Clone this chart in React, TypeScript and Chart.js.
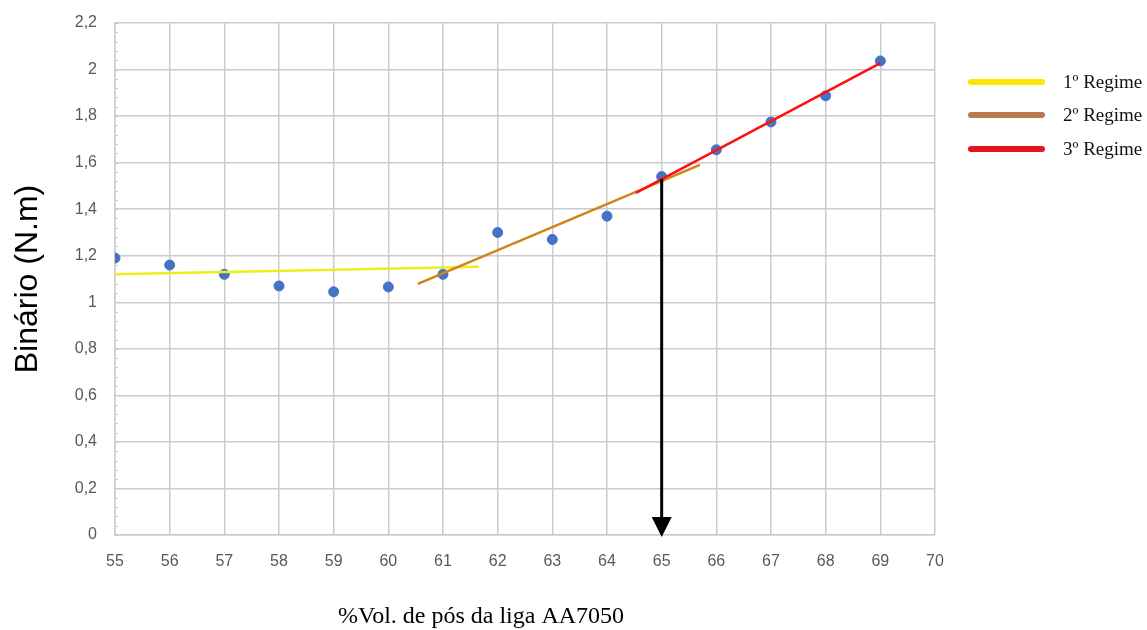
import React, { useEffect, useRef } from "react";
import { Chart, registerables } from "chart.js";

Chart.register(...registerables);

// ---- data ----
const volPct = [55, 56, 57, 58, 59, 60, 61, 62, 63, 64, 65, 66, 67, 68, 69];
const torque = [1.19, 1.16, 1.12, 1.07, 1.045, 1.066, 1.12, 1.30, 1.27, 1.37, 1.54, 1.655, 1.775, 1.887, 2.037];

const regime1X = [55, 61.66];
const regime1Y = [1.12, 1.153];
const regime2X = [60.54, 65.7];
const regime2Y = [1.079, 1.59];
const regime3X = [64.53, 69];
const regime3Y = [1.47, 2.028];

const arrowX = 65;
const arrowFromY = 1.53;
const arrowToY = 0;

const legendLabels = ["1º Regime", "2º Regime", "3º Regime"];
const legendColors = ["#fbe700", "#b97a4f", "#e8141c"];
const lineColors = ["#eeee1a", "#d0841a", "#ff1010"];

const xTitle = "%Vol. de pós da liga AA7050";
const yTitle = "Binário (N.m)";

const xMin = 55, xMax = 70, xStep = 1;
const yMin = 0, yMax = 2.2, yStep = 0.2;

const toXY = (xs: number[], ys: number[]) => xs.map((x, i) => ({ x, y: ys[i] }));

const fmt = (v: number) => String(Number(v.toFixed(1))).replace(".", ",");

export default function App() {
  const ref = useRef<HTMLCanvasElement | null>(null);

  useEffect(() => {
    document.body.style.margin = "0";
    const canvas = ref.current;
    if (!canvas) return;

    const overlay = {
      id: "overlay",
      beforeDatasetsDraw(chart: any) {
        const { ctx } = chart;
        const y = chart.scales.y;
        const x = chart.scales.x;
        // minor ticks on y axis
        ctx.save();
        ctx.strokeStyle = "#c8c8c8";
        ctx.lineWidth = 1;
        const n = Math.round((yMax - yMin) / (yStep / 5));
        for (let i = 0; i <= n; i++) {
          const v = yMin + (i * yStep) / 5;
          const py = Math.round(y.getPixelForValue(v)) + 0.5;
          ctx.beginPath();
          ctx.moveTo(x.left, py);
          ctx.lineTo(x.left + 3, py);
          ctx.stroke();
        }
        ctx.restore();
      },
      afterDatasetsDraw(chart: any) {
        const { ctx } = chart;
        const xs = chart.scales.x;
        const ys = chart.scales.y;
        // arrow
        const ax = xs.getPixelForValue(arrowX);
        const y1 = ys.getPixelForValue(arrowFromY);
        const y2 = ys.getPixelForValue(arrowToY) + 2;
        ctx.save();
        ctx.strokeStyle = "#000";
        ctx.fillStyle = "#000";
        ctx.lineWidth = 3;
        ctx.beginPath();
        ctx.moveTo(ax, y1);
        ctx.lineTo(ax, y2 - 18);
        ctx.stroke();
        ctx.beginPath();
        ctx.moveTo(ax - 10, y2 - 20);
        ctx.lineTo(ax + 10, y2 - 20);
        ctx.lineTo(ax, y2);
        ctx.closePath();
        ctx.fill();
        ctx.restore();
      },
      afterDraw(chart: any) {
        const { ctx } = chart;
        ctx.save();
        // legend
        const lx1 = 971, lx2 = 1042, tx = 1063;
        const rows = [82, 115, 149];
        legendLabels.forEach((lab, i) => {
          ctx.strokeStyle = legendColors[i];
          ctx.lineWidth = 6;
          ctx.lineCap = "round";
          ctx.beginPath();
          ctx.moveTo(lx1, rows[i]);
          ctx.lineTo(lx2, rows[i]);
          ctx.stroke();
          ctx.fillStyle = "#111";
          ctx.font = '19px "Liberation Serif"';
          ctx.textAlign = "left";
          ctx.textBaseline = "middle";
          ctx.fillText(lab, tx, rows[i] + 1);
        });
        // x title
        ctx.fillStyle = "#000";
        ctx.font = '24px "Liberation Serif"';
        ctx.textAlign = "center";
        ctx.textBaseline = "middle";
        ctx.fillText(xTitle, 481, 617);
        ctx.restore();
      },
    };

    const chart = new Chart(canvas, {
      type: "scatter",
      data: {
        datasets: [
          {
            type: "line",
            label: legendLabels[2],
            data: toXY(regime3X, regime3Y),
            borderColor: lineColors[2],
            borderWidth: 2.5,
            pointRadius: 0,
            fill: false,
          },
          {
            type: "line",
            label: legendLabels[1],
            data: toXY(regime2X, regime2Y),
            borderColor: lineColors[1],
            borderWidth: 2.5,
            pointRadius: 0,
            fill: false,
          },
          {
            type: "line",
            label: legendLabels[0],
            data: toXY(regime1X, regime1Y),
            borderColor: lineColors[0],
            borderWidth: 2.5,
            pointRadius: 0,
            fill: false,
          },
          {
            label: "Binário",
            data: toXY(volPct, torque),
            backgroundColor: "#4472c4",
            borderColor: "#4472c4",
            pointRadius: 5,
            pointHoverRadius: 5,
          },
        ],
      },
      options: {
        responsive: false,
        animation: false,
        layout: { padding: { left: 0, right: 212, top: 23, bottom: 0 } },
        plugins: {
          legend: { display: false },
          tooltip: { enabled: false },
        },
        scales: {
          x: {
            type: "linear",
            min: xMin,
            max: xMax,
            afterFit: (s: any) => { s.height = 95; },
            grid: { color: "#cccccc", lineWidth: 1.5, drawTicks: false },
            border: { color: "#cccccc", width: 1.5 },
            ticks: {
              stepSize: xStep,
              padding: 17,
              color: "#595959",
              font: { family: '"Liberation Sans"', size: 16 },
              callback: (v: any) => String(v),
            },
          },
          y: {
            min: yMin,
            max: yMax,
            afterFit: (s: any) => { s.width = 115; },
            grid: {
              color: "#cccccc",
              lineWidth: 1.5,
              drawTicks: true,
              tickLength: 18,
              tickColor: "rgba(0,0,0,0)",
            },
            border: { color: "#cccccc", width: 1.5 },
            ticks: {
              stepSize: yStep,
              padding: 0,
              color: "#595959",
              font: { family: '"Liberation Sans"', size: 16 },
              callback: (v: any) => fmt(Number(v)),
            },
            title: {
              display: true,
              text: yTitle,
              color: "#000",
              font: { family: '"Liberation Sans"', size: 32 },
              padding: { top: 9, bottom: 0 },
            },
          },
        },
      },
      plugins: [overlay],
    });

    return () => chart.destroy();
  }, []);

  return (
    <div style={{ width: 1147, height: 630 }}>
      <canvas ref={ref} width={1147} height={630} style={{ display: "block" }} />
    </div>
  );
}
